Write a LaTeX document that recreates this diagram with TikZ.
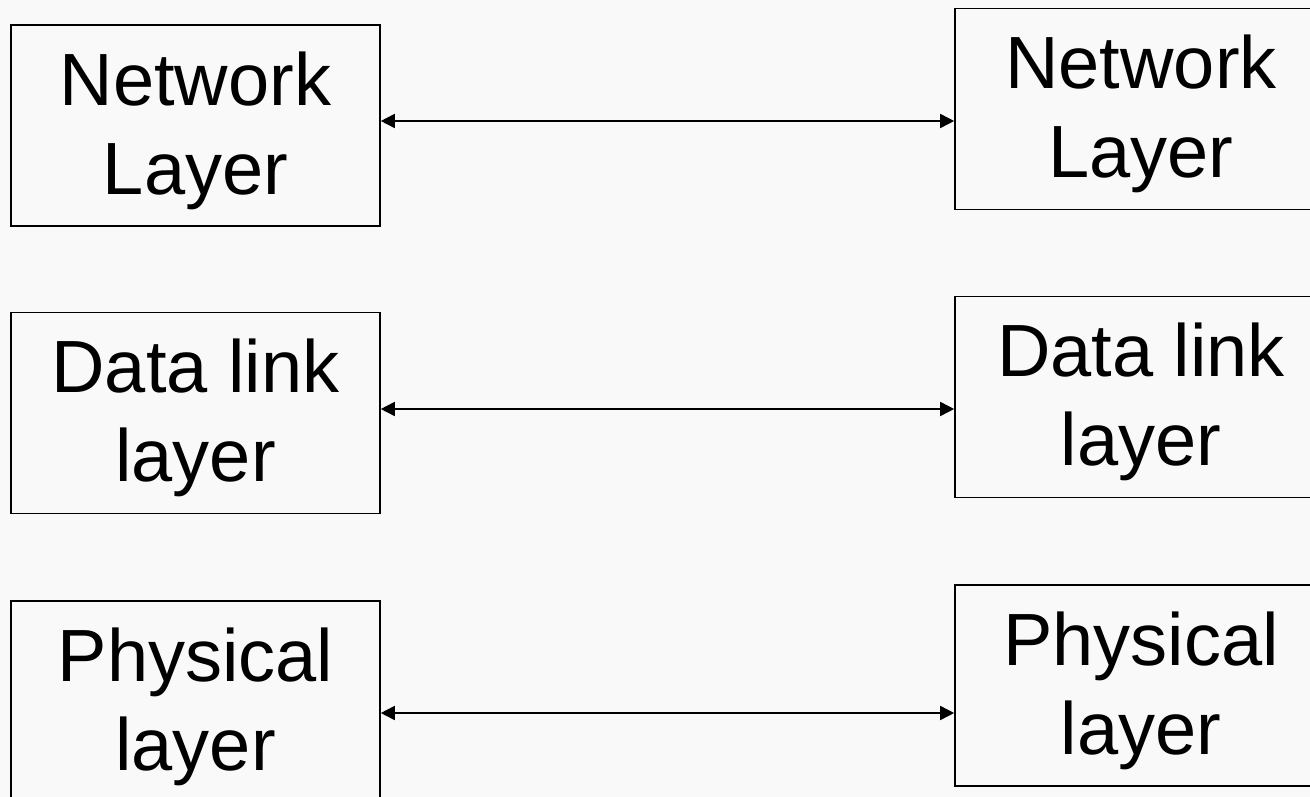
\documentclass[tikz,border=0pt]{standalone}
\usepackage{fontspec}
\setmainfont{Liberation Sans}
\usetikzlibrary{arrows.meta}
\definecolor{bgcol}{RGB}{249,249,249}
\tikzset{
  layerbox/.style={draw=black, line width=1.6pt, minimum width=369pt, minimum height=201pt,
    inner sep=0pt, align=center, text depth=5pt, font=\fontsize{74}{89}\selectfont},
  link/.style={line width=1.6pt, {Triangle[length=14pt,width=14pt]}-{Triangle[length=14pt,width=14pt]}}
}
\begin{document}
\begin{tikzpicture}[x=1pt,y=-1pt]
\useasboundingbox (0,0) rectangle (1310,797);
\clip (0,0) rectangle (1310,797);
\fill[bgcol] (0,0) rectangle (1310,797);
\node[layerbox] (lnet) at (195.5,125.5) {Network\\Layer};
\node[layerbox] (ldl) at (195.5,413) {Data link\\layer};
\node[layerbox] (lphy) at (195.5,701.5) {Physical\\layer};
\node[layerbox, minimum width=372pt] (rnet) at (1141,109) {Network\\Layer};
\node[layerbox, minimum width=372pt] (rdl) at (1141,397) {Data link\\layer};
\node[layerbox, minimum width=372pt] (rphy) at (1141,685.5) {Physical\\layer};
\draw[link] (lnet.east |- 0,121) -- (rnet.west |- 0,121);
\draw[link] (ldl.east |- 0,409) -- (rdl.west |- 0,409);
\draw[link] (lphy.east |- 0,713) -- (rphy.west |- 0,713);
\end{tikzpicture}
\end{document}
